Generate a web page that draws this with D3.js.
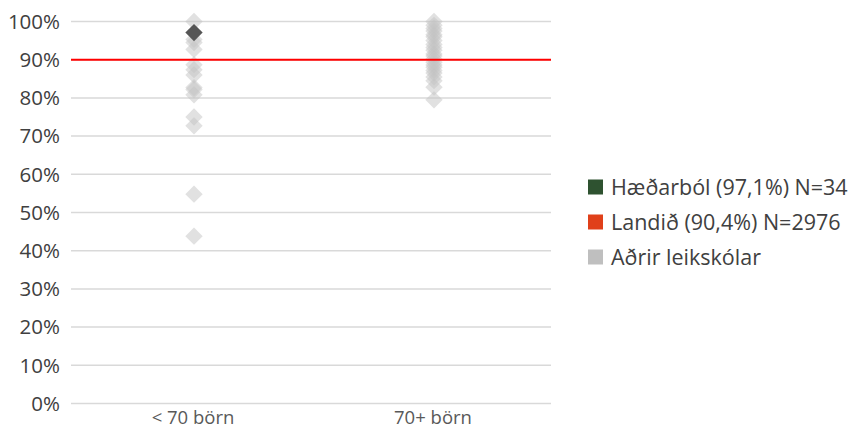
<!DOCTYPE html>
<html><head><meta charset="utf-8">
<script src="https://cdn.jsdelivr.net/npm/d3@7"></script>
<style>body{margin:0;background:#fff}svg{display:block}</style>
</head><body>
<svg id="c" width="852" height="430"></svg>
<script>
const categories = ["< 70 börn", "70+ börn"];
const yTicks = [0,10,20,30,40,50,60,70,80,90,100];
const smallSchools = [100, 95.3, 94.5, 92.7, 88.7, 87.4, 86, 82.7, 82.2, 80.8, 75, 72.7, 54.8, 43.8];
const largeSchools = [100, 99, 98.2, 97.5, 96.5, 96, 95, 94, 93.2, 92.5, 91.5, 91, 90.2, 89.3, 88.6, 88, 87.2, 86.5, 85.5, 84.5, 82.8, 79.5];
const school = {name: "Hæðarból", value: 97.1, cat: "< 70 börn"};
const landidLine = 90;
const legendLabels = ["Hæðarból (97,1%) N=34", "Landið (90,4%) N=2976", "Aðrir leikskólar"];
const legendColors = ["#2e5230", "#e0401a", "#bfbfbf"];

const FONT = "'Open Sans', sans-serif";
const svg = d3.select("#c");
const x = d3.scaleBand().domain(categories).range([71, 551]);
const y = d3.scaleLinear().domain([0, 100]).range([403.5, 21.5]);

// grid
svg.append("g").selectAll("line").data(yTicks).join("line")
  .attr("x1", 71).attr("x2", 551)
  .attr("y1", d => y(d)).attr("y2", d => y(d))
  .attr("stroke", "#d9d9d9").attr("stroke-width", 1.5);

// y labels
svg.append("g").selectAll("text").data(yTicks).join("text")
  .attr("x", 60).attr("y", d => y(d)).attr("dy", "0.36em")
  .attr("text-anchor", "end").attr("font-family", FONT)
  .attr("font-size", 20.5).attr("fill", "#404040")
  .text(d => d + "%");

// x labels
svg.append("g").selectAll("text").data(categories).join("text")
  .attr("x", d => x(d) + x.bandwidth()/2 + 2).attr("y", 424)
  .attr("text-anchor", "middle").attr("font-family", FONT)
  .attr("font-size", 18.5).attr("fill", "#595959")
  .text(d => d);

const diamond = d3.symbol().type(d3.symbolSquare).size(150);
const pts = smallSchools.map(v => ({cat: categories[0], v}))
  .concat(largeSchools.map(v => ({cat: categories[1], v})));

svg.append("g").selectAll("path").data(pts).join("path")
  .attr("d", diamond)
  .attr("transform", d => `translate(${x(d.cat) + x.bandwidth()/2 + 3},${y(d.v)}) rotate(45)`)
  .attr("fill", "#c4c4c4").attr("fill-opacity", 0.5);

// red line
svg.append("line").attr("x1", 71).attr("x2", 551)
  .attr("y1", y(landidLine)).attr("y2", y(landidLine))
  .attr("stroke", "#ff0000").attr("stroke-width", 2);

// school
svg.append("path").attr("d", diamond)
  .attr("transform", `translate(${x(school.cat) + x.bandwidth()/2 + 3},${y(school.value)}) rotate(45)`)
  .attr("fill", "#555555");

// legend
const lg = svg.append("g").selectAll("g").data(legendLabels).join("g")
  .attr("transform", (d,i) => `translate(588,${187 + i*35})`);
lg.append("rect").attr("x", 0).attr("y", -7.5).attr("width", 15).attr("height", 15)
  .attr("fill", (d,i) => legendColors[i]);
lg.append("text").attr("x", 23).attr("y", 0).attr("dy", "0.36em")
  .attr("font-family", FONT).attr("font-size", 21.5).attr("fill", "#404040")
  .text(d => d);
</script>
</body></html>
